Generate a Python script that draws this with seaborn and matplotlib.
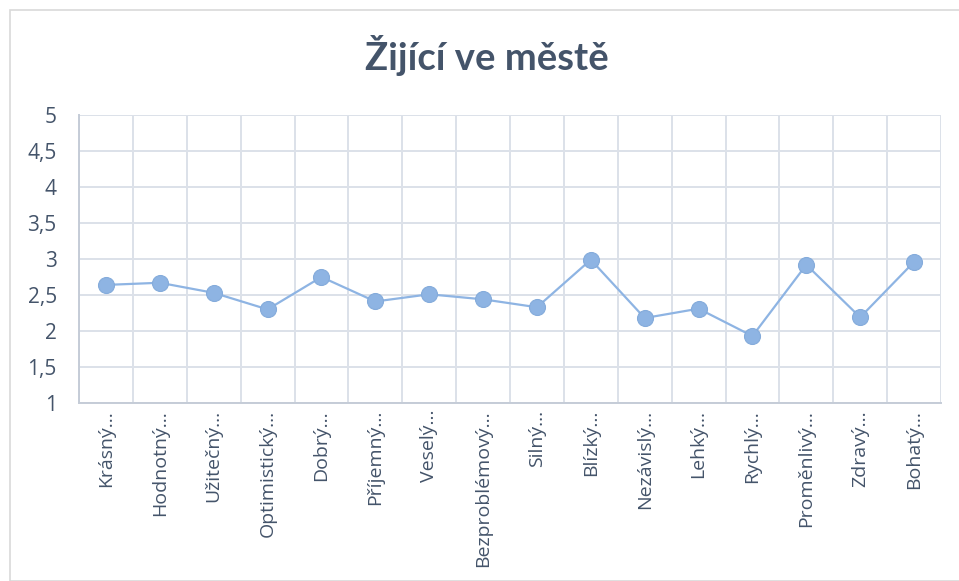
import numpy as np
import pandas as pd
import matplotlib
matplotlib.use("Agg")
import matplotlib.pyplot as plt
import seaborn as sns
from matplotlib.patches import Rectangle
from matplotlib.ticker import FuncFormatter, MultipleLocator

# data
categories = [
    "Krásný…", "Hodnotný…", "Užitečný…", "Optimistický…", "Dobrý…",
    "Příjemný…", "Veselý…", "Bezproblémový…", "Silný…", "Blízký…",
    "Nezávislý…", "Lehký…", "Rychlý…", "Proměnlivý…", "Zdravý…", "Bohatý…",
]
values = [2.64, 2.67, 2.53, 2.30, 2.75, 2.41, 2.51, 2.44,
          2.33, 2.99, 2.18, 2.31, 1.93, 2.92, 2.19, 2.96]
title = "Žijící ve městě"

df = pd.DataFrame({"pos": np.arange(len(categories)), "value": values})

text_col = "#44546A"
grid_col = "#DCE1E9"
line_col = "#8EB4E3"

sns.set_theme(style="white")
plt.rcParams["font.family"] = ["Open Sans", "DejaVu Sans"]

fig = plt.figure(figsize=(9.59, 5.81), dpi=100)
fig.patches.append(Rectangle((10 / 959, 0), 1, 1 - 10 / 581, transform=fig.transFigure,
                             fill=False, edgecolor="#D9D9D9", linewidth=1.2))

ax = fig.add_axes([79 / 959, 1 - 403 / 581, (941 - 79) / 959, (403 - 115) / 581])

sns.lineplot(data=df, x="pos", y="value", ax=ax, color=line_col, linewidth=1.6,
             marker="o", markersize=11.5, markeredgecolor="#84ABDB",
             markeredgewidth=0.8, zorder=3)

ax.set_xlim(-0.5, len(categories) - 0.5)
ax.set_ylim(1, 5)
ax.yaxis.set_major_locator(MultipleLocator(0.5))
ax.yaxis.set_major_formatter(FuncFormatter(lambda v, p: f"{v:g}".replace(".", ",")))
ax.set_xticks(range(len(categories)))
ax.set_xticklabels(categories, rotation=90, va="top", ha="center")
ax.set_xticks(np.arange(-0.5, len(categories)), minor=True)

ax.grid(True, which="major", axis="y", color=grid_col, linewidth=1.4)
ax.grid(True, which="minor", axis="x", color=grid_col, linewidth=1.4)
ax.grid(False, which="major", axis="x")

for side in ["top", "right"]:
    ax.spines[side].set_visible(False)
ax.spines["left"].set_color("#C5CCD7")
ax.spines["bottom"].set_color("#C5CCD7")
ax.spines["left"].set_linewidth(1.4)
ax.spines["bottom"].set_linewidth(1.4)

ax.tick_params(axis="both", which="both", length=0, colors=text_col)
ax.tick_params(axis="x", labelsize=14, pad=5)
ax.tick_params(axis="y", labelsize=15, pad=16)
ax.set_xlabel("")
ax.set_ylabel("")

fig.text(487 / 959, 1 - 55 / 581, title, ha="center", va="center",
         fontsize=27.5, fontweight="bold", color=text_col,
         family=["Lato", "DejaVu Sans"])

fig.savefig("out.png", dpi=100)
